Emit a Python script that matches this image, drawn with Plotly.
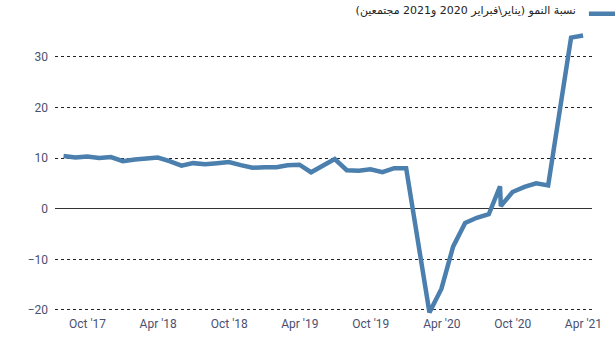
import plotly.graph_objects as go

# Data (end-of-month dates; Jan/Feb 2020 and 2021 combined)
dates = [
    "2017-07-31", "2017-08-31", "2017-09-30", "2017-10-31", "2017-11-30", "2017-12-31",
    "2018-01-31", "2018-02-28", "2018-03-31", "2018-04-30", "2018-05-31", "2018-06-30",
    "2018-07-31", "2018-08-31", "2018-09-30", "2018-10-31", "2018-11-30", "2018-12-31",
    "2019-01-31", "2019-02-28", "2019-03-31", "2019-04-30", "2019-05-31", "2019-06-30",
    "2019-07-31", "2019-08-31", "2019-09-30", "2019-10-31", "2019-11-30", "2019-12-31",
    "2020-02-29", "2020-03-31", "2020-04-30", "2020-05-31", "2020-06-30", "2020-07-31",
    "2020-08-29", "2020-08-31", "2020-09-30", "2020-10-31", "2020-11-30", "2020-12-31",
    "2021-02-28", "2021-03-31",
]
growth = [
    10.4, 10.1, 10.3, 10.0, 10.2, 9.4,
    9.7, 9.8, 10.1, 9.4, 8.5, 9.0,
    8.8, 9.0, 9.2, 8.6, 8.1, 8.2,
    8.2, 8.6, 8.7, 7.2, 8.6, 9.8,
    7.6, 7.5, 7.8, 7.2, 8.0, 8.0,
    -20.5, -15.8, -7.5, -2.8, -1.8, -1.1,
    4.4, 0.5, 3.3, 4.3, 5.0, 4.6,
    33.8, 34.2,
]
series_name = "نسبة النمو (يناير\\فبراير 2020 و2021 مجتمعين)"
y_ticks = [-20, -10, 0, 10, 20, 30]

fig = go.Figure()
fig.add_trace(go.Scatter(
    x=dates, y=growth, mode="lines", name="",
    line=dict(color="#4a7fae", width=4.5),
    hovertemplate=series_name + "<br>%{x|%b %Y}: %{y}<extra></extra>",
))

fig.update_layout(
    width=615, height=351,
    margin=dict(l=55, r=23, t=29, b=36, autoexpand=False),
    paper_bgcolor="white", plot_bgcolor="white",
    font=dict(family="Roboto, 'DejaVu Sans', sans-serif", size=12, color="#4a5070"),
    showlegend=True,
    legend=dict(
        x=1.07, xanchor="right", y=1.053, yanchor="middle",
        bgcolor="rgba(0,0,0,0)",
        title=dict(text=series_name, side="left",
                   font=dict(family="'DejaVu Sans', sans-serif", size=11, color="#222222")),
        font=dict(size=11),
    ),
    xaxis=dict(
        type="date",
        range=["2017-07-09", "2021-04-23"],
        tick0="2017-10-01", dtick="M6", tickformat="%b '%y",
        showgrid=False, zeroline=False, showline=False,
        ticks="", tickfont=dict(size=12, color="#4a5070"),
    ),
    yaxis=dict(
        range=[-21, 35.5],
        tickvals=y_ticks,
        showgrid=True, gridcolor="#222222", gridwidth=1, griddash="3px,3px",
        zeroline=True, zerolinecolor="#333333", zerolinewidth=1,
        showline=False, ticks="", ticklabelstandoff=6,
        tickfont=dict(size=12, color="#4a5070"),
    ),
)

fig.write_html("out.html")
